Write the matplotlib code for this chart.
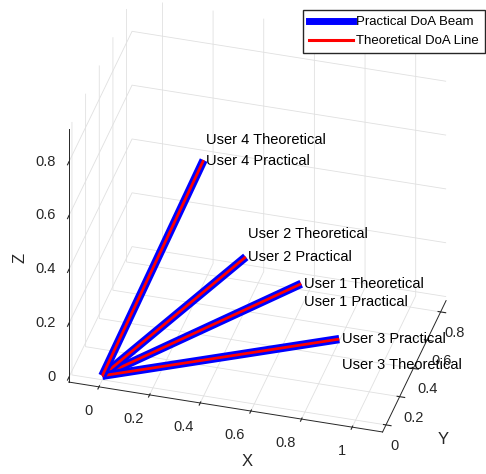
import matplotlib
matplotlib.use("Agg")
import matplotlib.pyplot as plt
from matplotlib.lines import Line2D
from mpl_toolkits.mplot3d import proj3d

plt.rcParams['font.family'] = ['Liberation Sans', 'DejaVu Sans']

# DoA end points (x, y, z) for each user
users = ["User 1", "User 2", "User 3", "User 4"]
prac_x = [0.664, 0.445, 0.806, 0.346]
prac_y = [0.45, 0.45, 0.48, 0.20]
prac_z = [0.205, 0.272, 0.005, 0.748]
theo_x = [0.664, 0.445, 0.806, 0.346]
theo_y = [0.45, 0.45, 0.48, 0.20]
theo_z = [0.205, 0.272, 0.005, 0.748]

x_ticks = [0, 0.2, 0.4, 0.6, 0.8, 1]
y_ticks = [0, 0.2, 0.4, 0.6, 0.8]
z_ticks = [0, 0.2, 0.4, 0.6, 0.8]
x_labels = ["0", "0.2", "0.4", "0.6", "0.8", "1"]
y_labels = ["0", "0.2", "0.4", "0.6", "0.8"]
z_labels = ["0", "0.2", "0.4", "0.6", "0.8"]

xlim = (-0.12, 1.12)
ylim = (-0.05, 0.88)
zlim = (-0.015, 0.925)

fig = plt.figure(figsize=(4.86, 4.74), dpi=100)
ax = fig.add_axes([-0.074, 0.023, 1.18, 1.02], projection='3d')
ax.set_proj_type('ortho')
ax.view_init(elev=35, azim=-74.5)

for i in range(len(users)):
    ax.plot([0, prac_x[i]], [0, prac_y[i]], [0, prac_z[i]], color='blue', lw=6,
            solid_capstyle='butt')
    ax.plot([0, theo_x[i]], [0, theo_y[i]], [0, theo_z[i]], color='red', lw=2,
            solid_capstyle='butt')

# text labels, nudged in z so they don't sit on top of each other
dz_prac = [-0.068, 0.0, 0.0, 0.0]
dz_theo = [0.0, 0.085, -0.095, 0.075]
for i, u in enumerate(users):
    ax.text(prac_x[i] + 0.01, prac_y[i], prac_z[i] + dz_prac[i], u + " Practical",
            fontsize=10.5, va='center', ha='left')
    ax.text(theo_x[i] + 0.01, theo_y[i], theo_z[i] + dz_theo[i], u + " Theoretical",
            fontsize=10.5, va='center', ha='left')

ax.set_xlim(*xlim)
ax.set_ylim(*ylim)
ax.set_zlim(*zlim)
ax.set_box_aspect((325, 237, 308), zoom=1.02)

ax.set_xticks(x_ticks)
ax.set_yticks(y_ticks)
ax.set_zticks(z_ticks)
ax.set_xticklabels([])
ax.set_yticklabels([])
ax.set_zticklabels([])
ax.tick_params(colors='#262626')
ax.zaxis.set_ticks_position('lower')

for axis in (ax.xaxis, ax.yaxis, ax.zaxis):
    axis.set_pane_color((1, 1, 1, 0))
    axis.pane.set_edgecolor((0.85, 0.85, 0.85))
    axis.line.set_color('#262626')
    axis.line.set_linewidth(0.7)
    axis._axinfo['grid']['color'] = (0.88, 0.88, 0.88)
    axis._axinfo['grid']['linewidth'] = 0.6

# tick labels placed by hand (matlab-like positions)
fig.canvas.draw()
M = ax.get_proj()


def proj(x, y, z):
    xs, ys, _ = proj3d.proj_transform(x, y, z, M)
    return xs, ys


tk = dict(fontsize=10.5, color='#262626', textcoords='offset pixels', va='center')
for v, s in zip(x_ticks, x_labels):
    ax.annotate(s, proj(v, ylim[0], zlim[0]), xytext=(-6, -24), ha='right', **tk)
for v, s in zip(y_ticks, y_labels):
    ax.annotate(s, proj(xlim[1], v, zlim[0]), xytext=(4, -21), ha='left', **tk)
for v, s in zip(z_ticks, z_labels):
    ax.annotate(s, proj(xlim[0], ylim[0], v), xytext=(-13, 1), ha='right', **tk)

fig.text(247 / 486, 1 - 462 / 474, "X", fontsize=12, color='#262626', ha='center', va='center')
fig.text(443 / 486, 1 - 440 / 474, "Y", fontsize=12, color='#262626', ha='center', va='center')
fig.text(20 / 486, 1 - 258 / 474, "Z", fontsize=12, color='#262626', ha='center', va='center',
         rotation=90)

handles = [Line2D([], [], color='blue', lw=5), Line2D([], [], color='red', lw=2.2)]
fig.legend(handles, ["Practical DoA Beam", "Theoretical DoA Line"], loc='upper right',
           bbox_to_anchor=(0.998, 0.979), fontsize=9.5, fancybox=False,
           edgecolor='#262626', framealpha=1, handlelength=3.33, borderpad=0.45,
           labelspacing=0.52, handletextpad=0.23, borderaxespad=0)

fig.savefig("out.png", dpi=100)
